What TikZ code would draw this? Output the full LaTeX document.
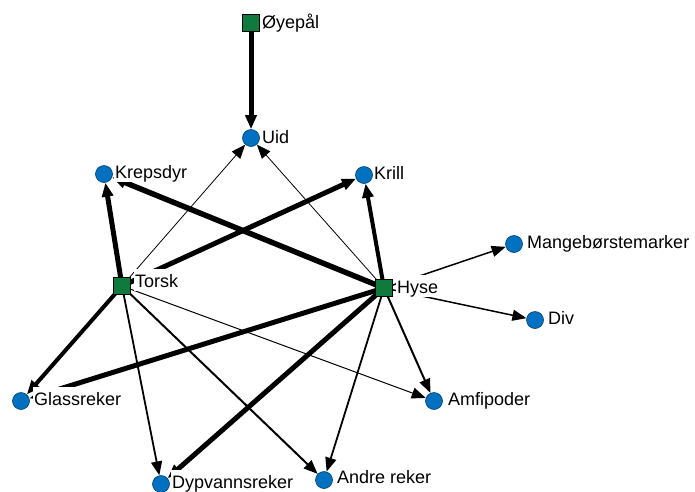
\documentclass[tikz,border=0pt]{standalone}
\usepackage{fontspec}
\setmainfont{Liberation Sans}
\usetikzlibrary{arrows.meta,calc}
\pgfdeclarelayer{edges}
\pgfsetlayers{edges,main}
\definecolor{preyblue}{RGB}{0,112,192}
\definecolor{predgreen}{RGB}{15,122,60}
\begin{document}
\begin{tikzpicture}[x=1pt,y=-1pt,
  prey/.style={circle,fill=preyblue,draw=preyblue!55!black,line width=0.6pt,minimum size=17pt,inner sep=0pt},
  pred/.style={rectangle,fill=predgreen,draw=black,line width=0.6pt,minimum size=17pt,inner sep=0pt},
  lbl/.style={fill=white,inner xsep=1pt,inner ysep=1.5pt,text height=17pt,text depth=2pt,
    anchor=base west,font=\fontsize{18}{20}\selectfont},
  link/.style={-{Triangle[length=14pt,width=11pt]},draw=black}
]
\useasboundingbox (0,0) rectangle (695,491);

% predators
\node[pred] (oye)   at (251,23)  {};
\node[pred] (torsk) at (122,286) {};
\node[pred] (hyse)  at (384,288) {};

% prey
\node[prey] (uid)   at (251,138) {};
\node[prey] (kreps) at (104,174) {};
\node[prey] (krill) at (364,175) {};
\node[prey] (mange) at (514,244) {};
\node[prey] (div)   at (535,320) {};
\node[prey] (glass) at (21,401)  {};
\node[prey] (amfi)  at (434,401) {};
\node[prey] (dyp)   at (161,484) {};
\node[prey] (andre) at (324,480) {};

% names
\node[lbl] (oye-l)   at (261,28)  {Øyepål};
\node[lbl] (uid-l)   at (261,143) {Uid};
\node[lbl] (kreps-l) at (114,178) {Krepsdyr};
\node[lbl] (krill-l) at (373,179) {Krill};
\node[lbl] (torsk-l) at (134,287) {Torsk};
\node[lbl] (hyse-l)  at (396,293) {Hyse};
\node[lbl] (mange-l) at (526,248) {Mangebørstemarker};
\node[lbl] (div-l)   at (547,324) {Div};
\node[lbl] (glass-l) at (33,405)  {Glassreker};
\node[lbl] (amfi-l)  at (447,405) {Amfipoder};
\node[lbl] (dyp-l)   at (171,488) {Dypvannsreker};
\node[lbl] (andre-l) at (336,483) {Andre reker};

% feeding links, weighted by line width
\begin{pgfonlayer}{edges}
\draw[link,line width=5pt]   (oye.center)   -- (uid);
\draw[link,line width=0.8pt] (torsk.center) -- (uid);
\draw[link,line width=0.8pt] (hyse.center)  -- (uid);
\draw[link,line width=5pt]   (torsk.center) -- (kreps);
\draw[link,line width=5.5pt] (hyse.center)  -- (kreps);
\draw[link,line width=5pt]   (torsk.center) -- (krill);
\draw[link,line width=4pt]   (hyse.center)  -- (krill);
\draw[link,line width=1.5pt] (hyse.center)  -- (mange);
\draw[link,line width=1.5pt] (hyse.center)  -- (div);
\draw[link,line width=4pt]   (torsk.center) -- (glass);
\draw[link,line width=5pt]   (hyse.center)  -- (glass);
\draw[link,line width=1pt]   (torsk.center) -- (amfi);
\draw[link,line width=2pt]   (hyse.center)  -- (amfi);
\draw[link,line width=1.8pt] (torsk.center) -- (dyp);
\draw[link,line width=5pt]   (hyse.center)  -- (dyp);
\draw[link,line width=2pt]   (torsk.center) -- (andre);
\draw[link,line width=1.8pt] (hyse.center)  -- (andre);
\end{pgfonlayer}
\end{tikzpicture}
\end{document}
